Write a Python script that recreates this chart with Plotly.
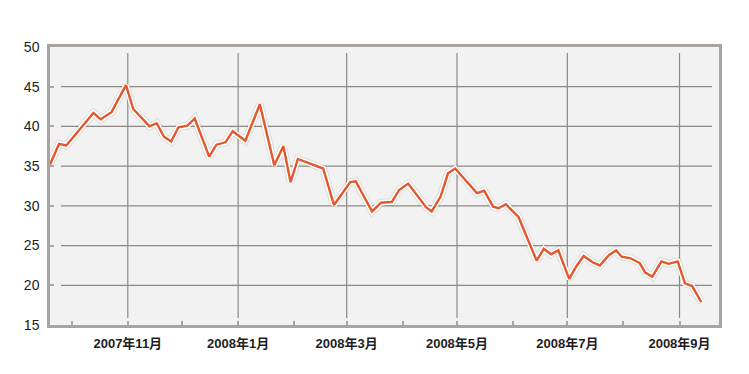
import plotly.graph_objects as go

dates = [
    "2007-09-19", "2007-09-24", "2007-09-28", "2007-10-13", "2007-10-17", "2007-10-23",
    "2007-10-31", "2007-11-04", "2007-11-13", "2007-11-17", "2007-11-21", "2007-11-25",
    "2007-11-29", "2007-12-04", "2007-12-08", "2007-12-16", "2007-12-20", "2007-12-25",
    "2007-12-29", "2008-01-05", "2008-01-13", "2008-01-21", "2008-01-26", "2008-01-30",
    "2008-02-03", "2008-02-10", "2008-02-15", "2008-02-17", "2008-02-23", "2008-03-03",
    "2008-03-06", "2008-03-15", "2008-03-20", "2008-03-26", "2008-03-30", "2008-04-04",
    "2008-04-14", "2008-04-17", "2008-04-22", "2008-04-26", "2008-04-30", "2008-05-12",
    "2008-05-16", "2008-05-21", "2008-05-24", "2008-05-28", "2008-06-04", "2008-06-14",
    "2008-06-18", "2008-06-22", "2008-06-26", "2008-07-02", "2008-07-06", "2008-07-10",
    "2008-07-15", "2008-07-19", "2008-07-24", "2008-07-28", "2008-07-31", "2008-08-05",
    "2008-08-10", "2008-08-13", "2008-08-17", "2008-08-22", "2008-08-26", "2008-08-31",
    "2008-09-04", "2008-09-08", "2008-09-13",
]
values = [
    35.2, 37.8, 37.6, 41.7, 40.9, 41.8,
    45.2, 42.2, 40.0, 40.4, 38.7, 38.1,
    39.9, 40.1, 41.0, 36.2, 37.7, 38.0,
    39.4, 38.2, 42.8, 35.1, 37.5, 33.0,
    35.9, 35.3, 34.8, 34.7, 30.1, 33.0,
    33.1, 29.3, 30.4, 30.5, 32.0, 32.8,
    29.8, 29.3, 31.2, 34.1, 34.7, 31.6,
    31.9, 29.9, 29.7, 30.2, 28.6, 23.1,
    24.6, 23.9, 24.4, 20.8, 22.4, 23.7,
    22.9, 22.5, 23.8, 24.4, 23.6, 23.4,
    22.8, 21.6, 21.1, 23.0, 22.7, 23.0,
    20.25, 19.9, 17.9,
]

x_tickvals = ["2007-11-01", "2008-01-01", "2008-03-01", "2008-05-01", "2008-07-01", "2008-09-01"]
x_ticktext = ["2007年11月", "2008年1月", "2008年3月", "2008年5月", "2008年7月", "2008年9月"]
y_tickvals = [15, 20, 25, 30, 35, 40, 45, 50]
y_grid = [20, 25, 30, 35, 40, 45]

FONT = "Liberation Sans, Noto Sans CJK JP, sans-serif"
AXIS_COLOR = "#aaa4a0"
GRID_COLOR = "#8f8985"
LINE_COLOR = "#e2572b"
TEXT_COLOR = "#1e1e1e"

fig = go.Figure()
# soft shadow
fig.add_trace(go.Scatter(x=dates, y=values, mode="lines",
                         line=dict(color="rgba(0,0,0,0.07)", width=8),
                         hoverinfo="skip", showlegend=False))
# white halo
fig.add_trace(go.Scatter(x=dates, y=values, mode="lines",
                         line=dict(color="white", width=5.5),
                         hoverinfo="skip", showlegend=False))
fig.add_trace(go.Scatter(x=dates, y=values, mode="lines",
                         line=dict(color=LINE_COLOR, width=2.4),
                         showlegend=False))

shapes = []
for v in y_grid:
    shapes.append(dict(type="line", xref="paper", yref="y", x0=0.0165, x1=0.9895,
                       y0=v, y1=v, line=dict(color=GRID_COLOR, width=1.2), layer="below"))
for d in x_tickvals:
    shapes.append(dict(type="line", xref="x", yref="paper", x0=d, x1=d,
                       y0=0.025, y1=0.978, line=dict(color=GRID_COLOR, width=1.2), layer="below"))

fig.update_layout(
    width=749, height=374,
    margin=dict(l=50, r=30, t=47, b=49),
    paper_bgcolor="white",
    plot_bgcolor="#f2f2f2",
    shapes=shapes,
    font=dict(family=FONT, size=13, color=TEXT_COLOR),
)
fig.update_xaxes(
    type="date",
    range=["2007-09-19", "2008-09-22 20:00"],
    tickvals=x_tickvals, ticktext=x_ticktext,
    showgrid=False, zeroline=False,
    showline=True, linecolor=AXIS_COLOR, linewidth=2.5, mirror=True,
    ticks="inside", ticklen=4, tickwidth=2, tickcolor=AXIS_COLOR,
    minor=dict(dtick="M1", tick0="2007-10-01", ticks="inside", ticklen=4,
               tickwidth=2, tickcolor=AXIS_COLOR, showgrid=False),
    ticklabelstandoff=5,
    tickfont=dict(family=FONT, size=13, color=TEXT_COLOR, weight="bold"),
)
fig.update_yaxes(
    range=[15, 50],
    tickvals=y_tickvals,
    showgrid=False, zeroline=False,
    showline=True, linecolor=AXIS_COLOR, linewidth=2.5, mirror=True,
    ticks="inside", ticklen=4, tickwidth=1.5, tickcolor=AXIS_COLOR,
    ticklabelstandoff=5,
    tickfont=dict(family=FONT, size=14, color=TEXT_COLOR),
)

fig.write_html("out.html", config={"displayModeBar": False},
               post_script="document.body.style.margin='0';")
